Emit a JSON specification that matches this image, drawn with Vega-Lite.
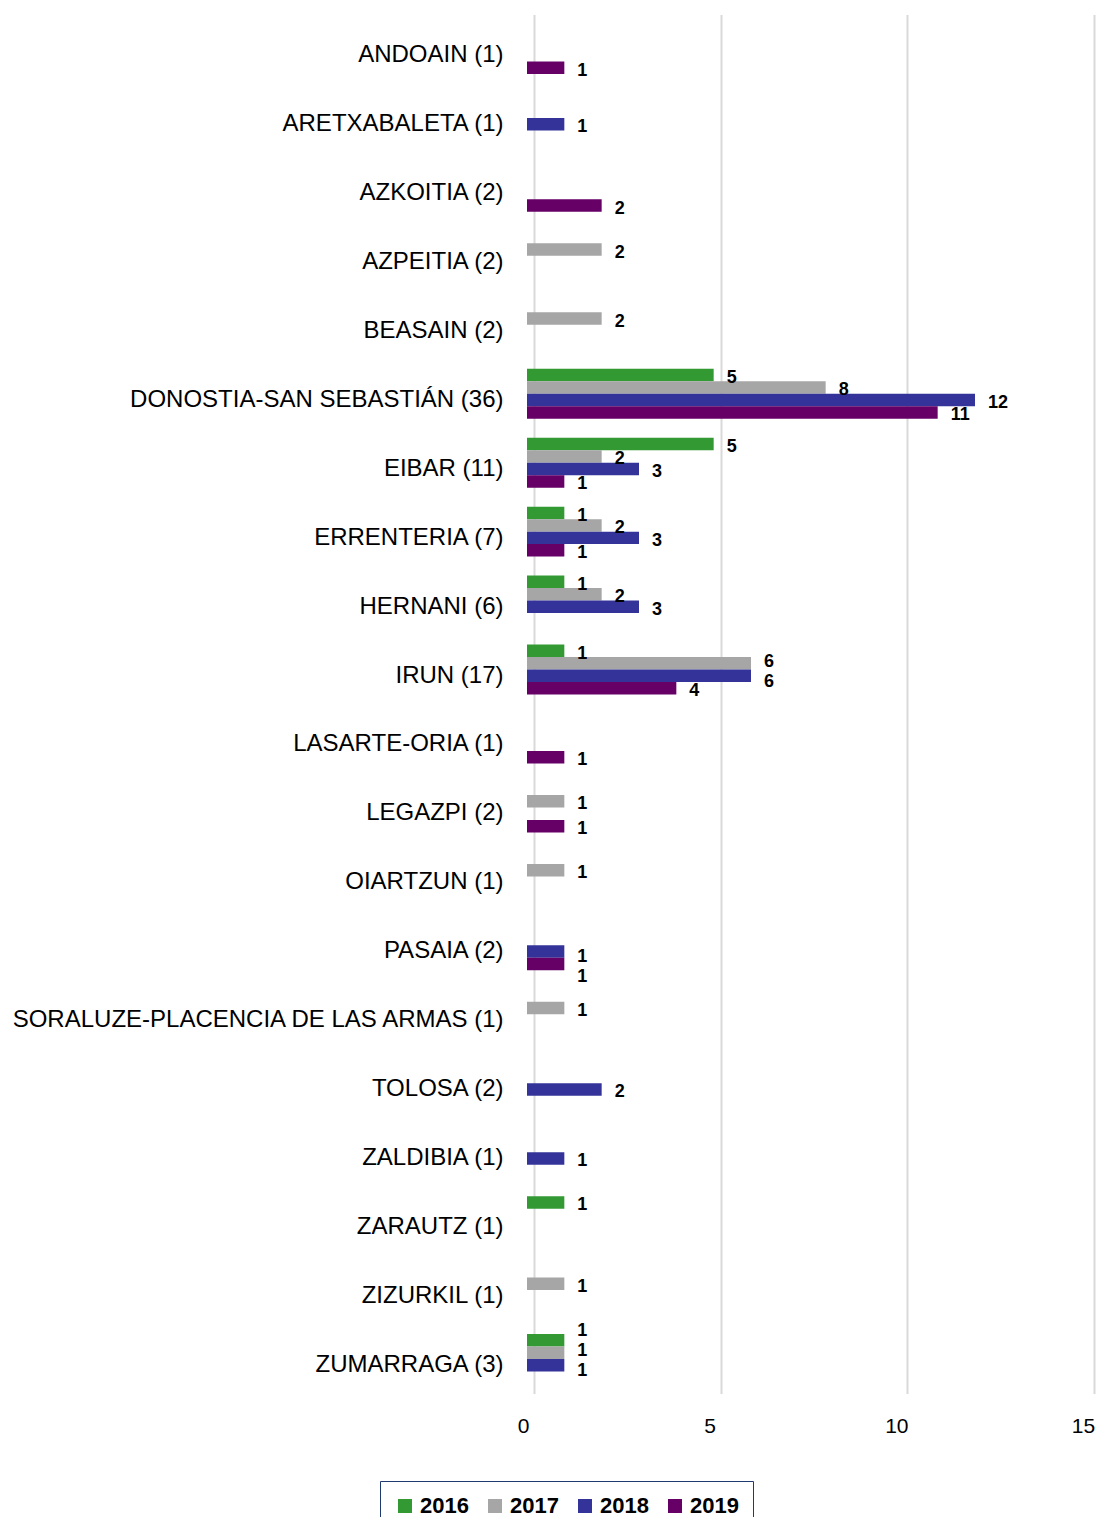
{
  "$schema": "https://vega.github.io/schema/vega-lite/v6.json",
  "width": 560,
  "height": 1379,
  "autosize": "none",
  "padding": {"left": 527, "top": 14.5, "right": 10, "bottom": 123.5},
  "background": "white",
  "config": {"view": {"stroke": null}, "font": "Liberation Sans", "legend": {"strokeColor": "#1F3A70", "padding": 14}},
  "data": {
    "values": [
      {"municipio": "ANDOAIN (1)", "year": "2019", "value": 1},
      {"municipio": "ARETXABALETA (1)", "year": "2018", "value": 1},
      {"municipio": "AZKOITIA (2)", "year": "2019", "value": 2},
      {"municipio": "AZPEITIA (2)", "year": "2017", "value": 2},
      {"municipio": "BEASAIN (2)", "year": "2017", "value": 2},
      {"municipio": "DONOSTIA-SAN SEBASTIÁN (36)", "year": "2016", "value": 5},
      {"municipio": "DONOSTIA-SAN SEBASTIÁN (36)", "year": "2017", "value": 8},
      {"municipio": "DONOSTIA-SAN SEBASTIÁN (36)", "year": "2018", "value": 12},
      {"municipio": "DONOSTIA-SAN SEBASTIÁN (36)", "year": "2019", "value": 11},
      {"municipio": "EIBAR (11)", "year": "2016", "value": 5},
      {"municipio": "EIBAR (11)", "year": "2017", "value": 2},
      {"municipio": "EIBAR (11)", "year": "2018", "value": 3},
      {"municipio": "EIBAR (11)", "year": "2019", "value": 1},
      {"municipio": "ERRENTERIA (7)", "year": "2016", "value": 1},
      {"municipio": "ERRENTERIA (7)", "year": "2017", "value": 2},
      {"municipio": "ERRENTERIA (7)", "year": "2018", "value": 3},
      {"municipio": "ERRENTERIA (7)", "year": "2019", "value": 1},
      {"municipio": "HERNANI (6)", "year": "2016", "value": 1},
      {"municipio": "HERNANI (6)", "year": "2017", "value": 2},
      {"municipio": "HERNANI (6)", "year": "2018", "value": 3},
      {"municipio": "IRUN (17)", "year": "2016", "value": 1},
      {"municipio": "IRUN (17)", "year": "2017", "value": 6},
      {"municipio": "IRUN (17)", "year": "2018", "value": 6},
      {"municipio": "IRUN (17)", "year": "2019", "value": 4},
      {"municipio": "LASARTE-ORIA (1)", "year": "2019", "value": 1},
      {"municipio": "LEGAZPI (2)", "year": "2017", "value": 1},
      {"municipio": "LEGAZPI (2)", "year": "2019", "value": 1},
      {"municipio": "OIARTZUN (1)", "year": "2017", "value": 1},
      {"municipio": "PASAIA (2)", "year": "2018", "value": 1},
      {"municipio": "PASAIA (2)", "year": "2019", "value": 1},
      {"municipio": "SORALUZE-PLACENCIA DE LAS ARMAS (1)", "year": "2017", "value": 1},
      {"municipio": "TOLOSA (2)", "year": "2018", "value": 2},
      {"municipio": "ZALDIBIA (1)", "year": "2018", "value": 1},
      {"municipio": "ZARAUTZ (1)", "year": "2016", "value": 1},
      {"municipio": "ZIZURKIL (1)", "year": "2017", "value": 1},
      {"municipio": "ZUMARRAGA (3)", "year": "2016", "value": 1},
      {"municipio": "ZUMARRAGA (3)", "year": "2017", "value": 1},
      {"municipio": "ZUMARRAGA (3)", "year": "2018", "value": 1}
    ]
  },
  "transform": [
    {
      "window": [
        {"op": "lag", "field": "value", "as": "prevVal"},
        {"op": "lead", "field": "value", "as": "nextVal"},
        {"op": "lag", "field": "year", "as": "prevYear"},
        {"op": "lead", "field": "year", "as": "nextYear"}
      ],
      "groupby": ["municipio"],
      "sort": [{"field": "year", "order": "ascending"}]
    }
  ],
  "resolve": {"scale": {"yOffset": "independent"}},
  "encoding": {
    "y": {
      "field": "municipio",
      "type": "nominal",
      "sort": null,
      "scale": {"paddingInner": 0.275, "paddingOuter": 0.1375},
      "axis": {
        "title": null,
        "domain": false,
        "ticks": false,
        "labelFontSize": 24,
        "labelColor": "#000000",
        "labelPadding": 24,
        "labelOffset": 6,
        "labelLimit": 600
      }
    },
    "x": {
      "field": "value",
      "type": "quantitative",
      "scale": {"domain": [0, 15], "nice": false},
      "axis": {
        "title": null,
        "domain": false,
        "ticks": false,
        "values": [0, 5, 10, 15],
        "grid": true,
        "gridColor": "#D9D9D9",
        "gridWidth": 2,
        "tickOffset": 7,
        "labelOffset": -11,
        "labelFlush": false,
        "labelFontSize": 21,
        "labelColor": "#000000",
        "labelPadding": 22
      }
    }
  },
  "layer": [
    {
      "mark": {"type": "bar", "strokeWidth": 0},
      "encoding": {
        "yOffset": {
          "field": "year",
          "type": "nominal",
          "scale": {"domain": ["2016", "2017", "2018", "2019"], "paddingInner": 0, "paddingOuter": 0}
        },
        "color": {
          "field": "year",
          "type": "nominal",
          "scale": {
            "domain": ["2016", "2017", "2018", "2019"],
            "range": ["#339933", "#A6A6A6", "#333399", "#660066"]
          },
          "legend": {
            "title": null,
            "orient": "none",
            "direction": "horizontal",
            "legendX": -147,
            "legendY": 1466.5,
            "fillColor": "white",
            "symbolType": "square",
            "symbolSize": 196,
            "symbolStrokeWidth": 0,
            "labelFontSize": 22,
            "labelFontWeight": "bold",
            "labelColor": "#000000",
            "labelOffset": 4,
            "columnPadding": 15
          }
        }
      }
    },
    {
      "transform": [{"filter": "!((datum.prevVal == datum.value && (+datum.year) - (+datum.prevYear) == 1) || (datum.nextVal == datum.value && (+datum.nextYear) - (+datum.year) == 1))"}],
      "mark": {"type": "text", "align": "left", "baseline": "middle", "dx": 13, "dy": 3, "fontSize": 18, "fontWeight": "bold", "color": "#000000"},
      "encoding": {
        "yOffset": {
          "field": "year",
          "type": "nominal",
          "scale": {"type": "point", "domain": ["2016", "2017", "2018", "2019"], "range": [6.25, 43.75], "padding": 0}
        },
        "text": {"field": "value", "type": "quantitative"}
      }
    },
    {
      "transform": [{"filter": "(datum.prevVal == datum.value && (+datum.year) - (+datum.prevYear) == 1) || (datum.nextVal == datum.value && (+datum.nextYear) - (+datum.year) == 1)"}],
      "mark": {"type": "text", "align": "left", "baseline": "middle", "dx": 13, "dy": 3, "fontSize": 18, "fontWeight": "bold", "color": "#000000"},
      "encoding": {
        "yOffset": {
          "field": "year",
          "type": "nominal",
          "scale": {"type": "point", "domain": ["2016", "2017", "2018", "2019"], "range": [-6, 54], "padding": 0}
        },
        "text": {"field": "value", "type": "quantitative"}
      }
    }
  ]
}
